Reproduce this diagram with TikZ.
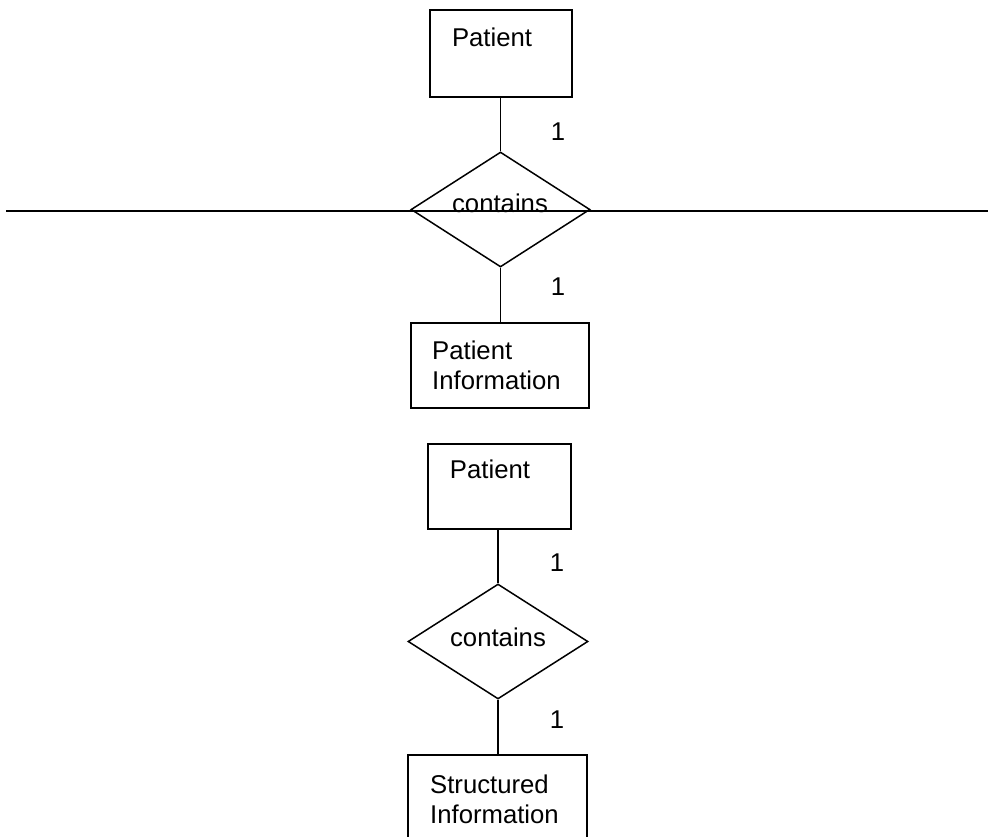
\documentclass[tikz,border=0pt]{standalone}
\usepackage{fontspec}
\setmainfont{Liberation Sans}
\usetikzlibrary{shapes.geometric}
\tikzset{
  ent/.style={draw, line width=1.5pt, inner sep=0pt},
  rel/.style={draw, diamond, line width=1.5pt, inner sep=0pt},
  txt/.style={inner sep=0pt, font=\fontsize{25.7}{30}\selectfont},
  conn/.style={line width=1.5pt}
}
\begin{document}
\begin{tikzpicture}[x=1pt,y=-1pt]
\useasboundingbox (0,0) rectangle (988,837);
% top diagram
\node[ent, minimum width=142pt, minimum height=87pt] (p1) at (501,53.5) {};
\node[txt] (p1t) at (492,37) {Patient};
\node[rel, minimum width=179pt, minimum height=115pt] (d1) at (500.5,209.5) {};
\node[txt] (d1t) at (500,203) {contains};
\node[ent, minimum width=178pt, minimum height=85pt] (pi) at (500,365.5) {};
\node[txt, anchor=west, align=left] (pit) at (432,365) {Patient\\Information};
\draw[conn] (d1.north |- p1.south) -- (d1.north);
\draw[conn] (d1.south) -- (d1.south |- pi.north);
\node[txt] (o1) at (558,132) {1};
\node[txt] (o2) at (558,287) {1};
\coordinate (hl) at (6,211);
\coordinate (hr) at (988,211);
\draw[conn] (hl) -- (hr);
% bottom diagram
\node[ent, minimum width=143pt, minimum height=85pt] (p2) at (499.5,486.5) {};
\node[txt] (p2t) at (490,469) {Patient};
\node[rel, minimum width=180pt, minimum height=115pt] (d2) at (498,641.5) {};
\node[txt] (d2t) at (498,637) {contains};
\node[ent, minimum width=179pt, minimum height=85pt] (si) at (497.5,797.5) {};
\node[txt, anchor=west, align=left] (sit) at (430,799) {Structured\\Information};
\draw[conn] (d2.north |- p2.south) -- (d2.north);
\draw[conn] (d2.south) -- (d2.south |- si.north);
\node[txt] (o3) at (557,563) {1};
\node[txt] (o4) at (557,720) {1};
\end{tikzpicture}
\end{document}
